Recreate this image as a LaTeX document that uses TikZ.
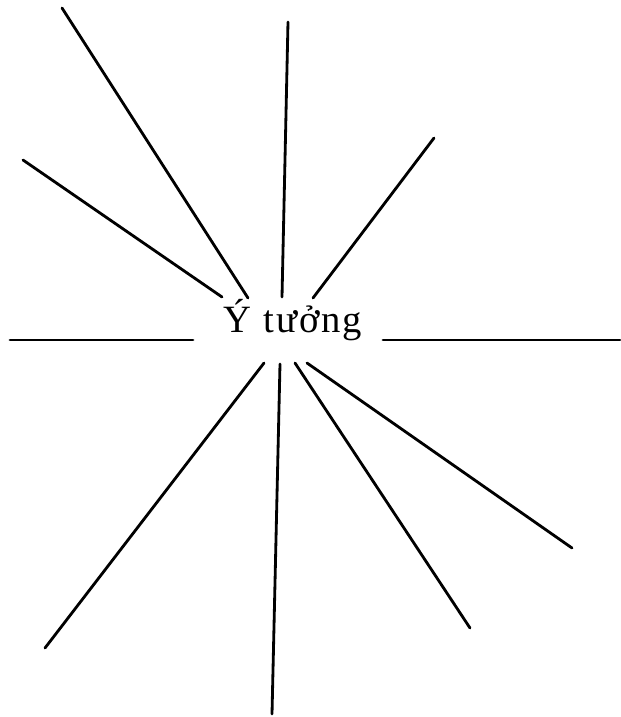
\documentclass[tikz,border=0pt]{standalone}
\usepackage{fontspec}
\setmainfont{Liberation Serif}
\begin{document}
\begin{tikzpicture}[x=0.02cm,y=-0.02cm,ray/.style={line width=1.6pt,line cap=round}]
\useasboundingbox (0,0) rectangle (621,717);
\node[anchor=base,inner sep=0pt,font=\fontsize{22}{26}\selectfont\addfontfeatures{LetterSpace=5}] (idea) at (293,332) {Ý tưởng};
% ends near the word, then outer ends
\foreach \n/\a/\b/\c/\d in {1/248/298/62/8, 2/282/297/288/22, 3/313/298/434/138, 4/222/297/23/160, 5/193/340/10/340, 6/383/340/620/340, 7/264/363/45/648, 8/280/364/272/714, 9/295/363/470/628, 10/307/363/572/548}{
  \coordinate (in\n) at (\a,\b);
  \coordinate (out\n) at (\c,\d);
  \draw[ray] (in\n) -- (out\n);
}
\end{tikzpicture}
\end{document}
